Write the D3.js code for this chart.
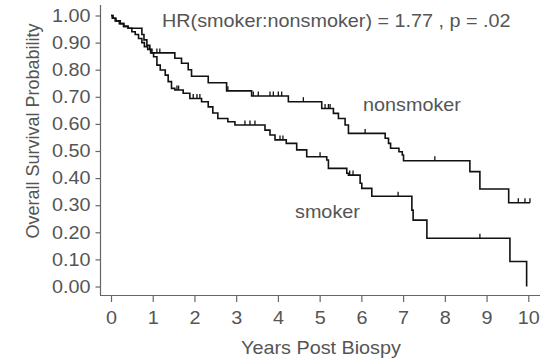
<!DOCTYPE html>
<html>
<head>
<meta charset="utf-8">
<script src="https://cdn.jsdelivr.net/npm/d3@7"></script>
<style>
  html, body { margin: 0; padding: 0; background: #fff; }
  svg { display: block; }
  text { font-family: "Liberation Sans", Arial, Helvetica, sans-serif; }
</style>
</head>
<body>
<svg id="chart" width="540" height="361"></svg>
<script>
// Kaplan-Meier estimates: event times (years) and survival after each event
const nonsmokerTimes = [0, 0.05, 0.12, 0.22, 0.31, 0.41, 0.74, 0.79, 0.86, 0.93, 0.98, 1.53, 1.69, 1.85, 1.93, 2.33, 2.77, 3.37, 4.25, 5.05, 5.33, 5.45, 5.61, 5.69, 6.57, 6.65, 6.70, 6.90, 6.98, 7.01, 8.60, 8.84, 9.53];
const nonsmokerSurv  = [1.0, 0.99, 0.98, 0.97, 0.96, 0.953, 0.93, 0.91, 0.89, 0.875, 0.862, 0.842, 0.824, 0.80, 0.776, 0.752, 0.722, 0.703, 0.682, 0.657, 0.639, 0.62, 0.596, 0.565, 0.547, 0.528, 0.51, 0.497, 0.485, 0.464, 0.424, 0.36, 0.309];
const nonsmokerCensored = [1.10, 1.17, 2.80, 3.41, 3.53, 3.81, 3.89, 4.01, 4.09, 4.61, 5.13, 5.21, 5.25, 6.09, 7.76, 9.76, 9.92, 10.04];
const nonsmokerEnd = 10.04;

const smokerTimes = [0, 0.03, 0.10, 0.20, 0.30, 0.41, 0.50, 0.58, 0.66, 0.74, 0.80, 0.88, 0.95, 1.02, 1.10, 1.18, 1.30, 1.37, 1.45, 1.53, 1.73, 1.89, 2.17, 2.33, 2.44, 2.56, 2.80, 2.97, 3.69, 3.81, 3.93, 4.20, 4.45, 4.69, 5.17, 5.21, 5.65, 5.69, 5.97, 6.01, 6.25, 7.21, 7.24, 7.57, 9.56, 9.96];
const smokerSurv  = [1.0, 0.99, 0.98, 0.97, 0.96, 0.953, 0.94, 0.93, 0.915, 0.90, 0.885, 0.875, 0.862, 0.848, 0.817, 0.799, 0.78, 0.756, 0.731, 0.725, 0.713, 0.694, 0.682, 0.663, 0.64, 0.62, 0.608, 0.596, 0.577, 0.559, 0.541, 0.528, 0.504, 0.479, 0.467, 0.436, 0.418, 0.411, 0.381, 0.362, 0.333, 0.282, 0.245, 0.178, 0.092, 0.0];
const smokerCensored = [1.58, 1.62, 1.97, 2.06, 2.13, 3.21, 3.33, 3.45, 4.05, 4.12, 5.01, 5.72, 5.80, 6.88, 8.84];
const smokerEnd = 9.96;

const xTicks = [0, 1, 2, 3, 4, 5, 6, 7, 8, 9, 10];
const yTicks = [0, 0.1, 0.2, 0.3, 0.4, 0.5, 0.6, 0.7, 0.8, 0.9, 1.0];

const svg = d3.select("#chart");
const textColor = "#555";
const axisColor = "#666";
const fontSize = "18px";
const stretch = 1.1;   // wide lettering

const x = d3.scaleLinear().domain([0, 10]).range([111, 528.3]);
const y = d3.scaleLinear().domain([0, 1]).range([286.5, 15.5]);

// axis frame lines
svg.append("line").attr("x1", 100.5).attr("x2", 100.5).attr("y1", 5).attr("y2", 295.5)
  .attr("stroke", axisColor).attr("stroke-width", 1.2);
svg.append("line").attr("x1", 100).attr("x2", 540).attr("y1", 295.5).attr("y2", 295.5)
  .attr("stroke", axisColor).attr("stroke-width", 1.2);

// y axis ticks and labels
const yAxis = svg.append("g").attr("transform", "translate(100.5,0)")
  .call(d3.axisLeft(y).tickValues(yTicks).tickFormat(d3.format(".2f")).tickSize(5).tickPadding(5));
yAxis.select(".domain").remove();
yAxis.selectAll(".tick line").attr("stroke", axisColor).attr("stroke-width", 1.2);
yAxis.selectAll(".tick text").attr("fill", textColor).style("font-size", fontSize)
  .attr("transform", `translate(-10,0) scale(${stretch},1) translate(10,0)`)
  .style("font-family", "'Liberation Sans', Arial, sans-serif");

// x axis ticks and labels
const xAxis = svg.append("g").attr("transform", "translate(0,296)")
  .call(d3.axisBottom(x).tickValues(xTicks).tickFormat(d3.format("d")).tickSize(6).tickPadding(9));
xAxis.select(".domain").remove();
xAxis.selectAll(".tick line").attr("stroke", axisColor).attr("stroke-width", 1.2);
xAxis.selectAll(".tick text").attr("fill", textColor).style("font-size", fontSize)
  .attr("transform", `scale(${stretch},1)`)
  .style("font-family", "'Liberation Sans', Arial, sans-serif");

function addLabel(px, py, anchor, str) {
  svg.append("text").attr("transform", `translate(${px},${py}) scale(${stretch},1)`)
    .attr("text-anchor", anchor).attr("fill", textColor)
    .style("font-size", fontSize).text(str);
}

// axis titles
addLabel(321, 354, "middle", "Years Post Biospy");
svg.append("text").attr("transform", "translate(39,131) rotate(-90)").attr("text-anchor", "middle")
  .attr("fill", textColor).style("font-size", fontSize).text("Overall Survival Probability");

// hazard ratio annotation
addLabel(162, 27, "start", "HR(smoker:nonsmoker) = 1.77 , p = .02");

// group labels
addLabel(363, 111, "start", "nonsmoker");
addLabel(295, 218, "start", "smoker");

function survivalAt(times, surv, t) {
  let s = surv[0];
  for (let i = 0; i < times.length; i++) { if (times[i] <= t) s = surv[i]; }
  return s;
}

function drawCurve(times, surv, censored, end) {
  const pts = times.map((t, i) => [t, surv[i]]);
  pts.push([end, surv[surv.length - 1]]);
  const line = d3.line().x(d => x(d[0])).y(d => y(d[1])).curve(d3.curveStepAfter);
  svg.append("path").datum(pts).attr("d", line)
    .attr("fill", "none").attr("stroke", "#111").attr("stroke-width", 1.6);
  svg.append("g").selectAll("line").data(censored).join("line")
    .attr("x1", d => x(d)).attr("x2", d => x(d))
    .attr("y1", d => y(survivalAt(times, surv, d)))
    .attr("y2", d => y(survivalAt(times, surv, d)) - 4.5)
    .attr("stroke", "#111").attr("stroke-width", 1.3);
}

drawCurve(nonsmokerTimes, nonsmokerSurv, nonsmokerCensored, nonsmokerEnd);
drawCurve(smokerTimes, smokerSurv, smokerCensored, smokerEnd);
</script>
</body>
</html>
